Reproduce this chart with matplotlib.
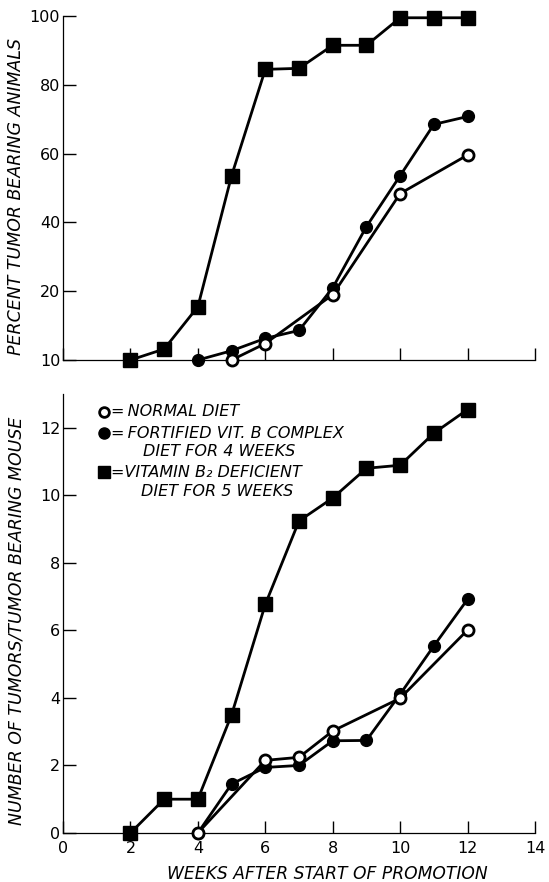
import matplotlib
matplotlib.use("Agg")
import matplotlib.pyplot as plt

# Top panel: percent tumor bearing animals
wk_sq_top = [2, 3, 4, 5, 6, 7, 8, 9, 10, 11, 12]
pct_b2_def = [0, 3.2, 15.5, 53.6, 84.5, 84.8, 91.5, 91.5, 99.5, 99.5, 99.5]
wk_fort_top = [4, 5, 6, 7, 8, 9, 10, 11, 12]
pct_fortified = [0, 2.7, 6.3, 8.6, 21, 38.8, 53.6, 68.5, 70.8]
wk_norm_top = [5, 6, 8, 10, 12]
pct_normal = [0, 4.8, 19, 48.4, 59.6]

# Bottom panel: tumors per tumor bearing mouse
wk_sq_bot = [2, 3, 4, 5, 6, 7, 8, 9, 10, 11, 12]
num_b2_def = [0, 1, 1, 3.5, 6.77, 9.24, 9.92, 10.8, 10.89, 11.84, 12.54]
wk_fort_bot = [4, 5, 6, 7, 8, 9, 10, 11, 12]
num_fortified = [0, 1.45, 1.94, 2.0, 2.73, 2.74, 4.11, 5.54, 6.92]
wk_norm_bot = [4, 6, 7, 8, 10, 12]
num_normal = [0, 2.15, 2.24, 3.02, 3.99, 6.01]

top_yticks = [0, 20, 40, 60, 80, 100]
top_ylabels = ["10", "20", "40", "60", "80", "100"]
bot_yticks = [0, 2, 4, 6, 8, 10, 12]
xticks = [0, 2, 4, 6, 8, 10, 12, 14]

plt.rcParams["font.family"] = "DejaVu Sans"

fig = plt.figure(figsize=(5.49, 8.82), dpi=100)
ax1 = fig.add_axes([0.1148, 0.5918, 0.8597, 0.390])
ax2 = fig.add_axes([0.1148, 0.0556, 0.8597, 0.4977])

line_kw = dict(color="black", lw=2.0, clip_on=False)


def draw(ax, xs_sq, sq, xs_f, f, xs_o, o):
    ax.plot(xs_sq, sq, marker="s", ms=10.5, mfc="black", mec="black", zorder=3, **line_kw)
    ax.plot(xs_f, f, marker="o", ms=8.5, mfc="black", mec="black", zorder=4, **line_kw)
    ax.plot(xs_o, o, marker="o", ms=8, mfc="white", mec="black", mew=2, zorder=5, **line_kw)


draw(ax1, wk_sq_top, pct_b2_def, wk_fort_top, pct_fortified, wk_norm_top, pct_normal)
draw(ax2, wk_sq_bot, num_b2_def, wk_fort_bot, num_fortified, wk_norm_bot, num_normal)

for ax in (ax1, ax2):
    ax.set_xlim(0, 14)
    ax.spines["top"].set_visible(False)
    ax.spines["right"].set_visible(False)
    for s in ("left", "bottom"):
        ax.spines[s].set_linewidth(0.9)
    ax.set_xticks(xticks)
    ax.tick_params(direction="in", length=9, width=1.0, labelsize=11.5, pad=2)

ax1.set_ylim(0, 100)
ax1.set_yticks(top_yticks)
ax1.set_yticklabels(top_ylabels)
ax1.set_xticklabels([])
ax1.set_ylabel("PERCENT TUMOR BEARING ANIMALS", fontsize=12.5, style="italic")
ax1.yaxis.set_label_coords(-0.080, 0.475)

ax2.set_ylim(0, 13)
ax2.set_yticks(bot_yticks)
ax2.tick_params(axis="x", pad=6)
ax2.set_ylabel("NUMBER OF TUMORS/TUMOR BEARING MOUSE", fontsize=12.5, style="italic")
ax2.yaxis.set_label_coords(-0.080, 0.483)
ax2.set_xlabel("WEEKS AFTER START OF PROMOTION", fontsize=12.3, style="italic")
ax2.xaxis.set_label_coords(0.56, -0.073)

# legend drawn by hand
tr = ax2.transAxes
fs = 11.5
txt = dict(transform=tr, fontsize=fs, style="italic", va="center")
ax2.plot([0.087], [0.959], marker="o", ms=7, mfc="white", mec="black", mew=2, transform=tr, clip_on=False)
ax2.text(0.101, 0.959, "=\u2009NORMAL DIET", **txt)
ax2.plot([0.087], [0.911], marker="o", ms=8, mfc="black", mec="black", transform=tr, clip_on=False)
ax2.text(0.101, 0.911, "=\u2009FORTIFIED VIT. B COMPLEX", **txt)
ax2.text(0.169, 0.868, "DIET FOR 4 WEEKS", **txt)
ax2.plot([0.087], [0.822], marker="s", ms=9, mfc="black", mec="black", transform=tr, clip_on=False)
ax2.text(0.101, 0.822, "=VITAMIN B\u2082 DEFICIENT", **txt)
ax2.text(0.165, 0.779, "DIET FOR 5 WEEKS", **txt)

fig.savefig("out.png", dpi=100)
